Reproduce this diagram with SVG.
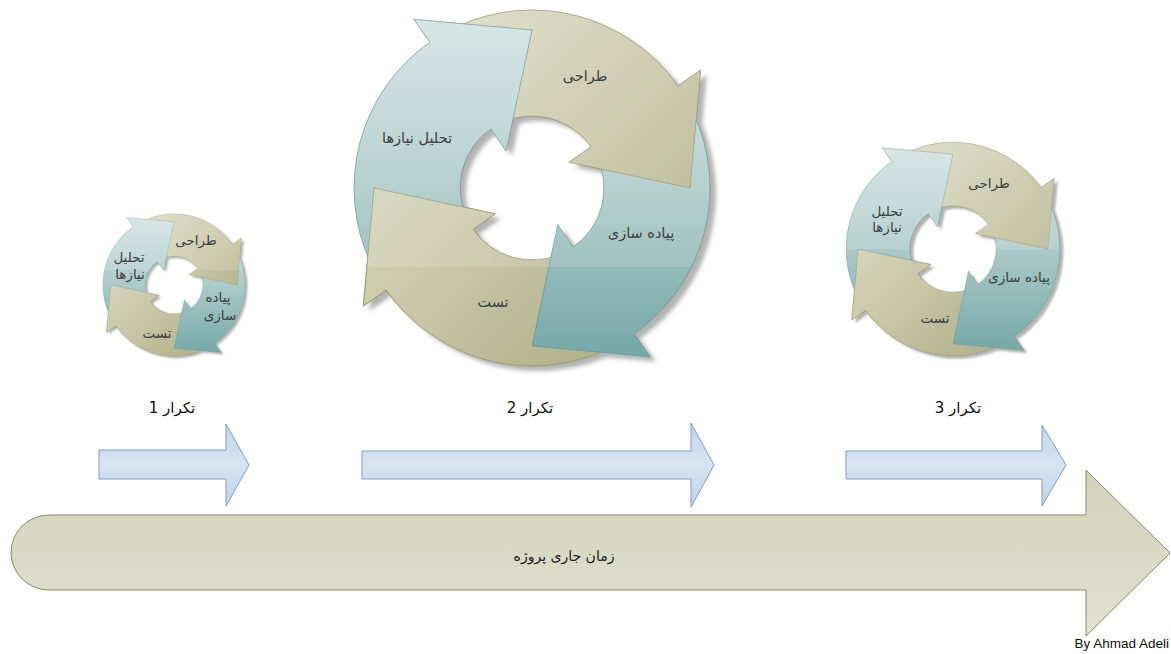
<svg xmlns="http://www.w3.org/2000/svg" xmlns:xlink="http://www.w3.org/1999/xlink" width="1171" height="654" viewBox="0 0 1171 654">
  <style>
    .lbl { font-family: "DejaVu Sans", "Noto Sans", sans-serif; font-size: 13.5px; fill: #3c4040; text-anchor: middle; dominant-baseline: central; }
    .step { font-family: "DejaVu Sans", "Noto Sans", sans-serif; font-size: 15px; fill: #111; text-anchor: middle; direction: rtl; unicode-bidi: embed; }
    .teal { fill: url(#tealFill); stroke: #6b9896; stroke-width: 0.8; vector-effect: non-scaling-stroke; }
    .tan { fill: url(#tanFill); stroke: #95946e; stroke-width: 0.8; vector-effect: non-scaling-stroke; }
    .shade { fill: #8a8a8a; }
    .iter { fill: url(#blueFill); stroke: #7f9fc6; stroke-width: 1; }
    .timeline { fill: url(#oliveFill); stroke: #8a8a5e; stroke-width: 1; }
  </style>
  <defs>
    <linearGradient id="tealFill" gradientUnits="userSpaceOnUse" x1="0" y1="-200" x2="0" y2="190">
      <stop offset="0" stop-color="#d8e8e7"/>
      <stop offset="0.5" stop-color="#adcbca"/>
      <stop offset="1" stop-color="#6ea4a3"/>
    </linearGradient>
    <linearGradient id="tanFill" gradientUnits="userSpaceOnUse" x1="-150" y1="-150" x2="150" y2="150">
      <stop offset="0" stop-color="#dfdfca"/>
      <stop offset="0.5" stop-color="#c8c7a7"/>
      <stop offset="1" stop-color="#abaa84"/>
    </linearGradient>
    <linearGradient id="blueFill" x1="0" y1="0" x2="0" y2="1">
      <stop offset="0" stop-color="#c3d5ea"/>
      <stop offset="0.5" stop-color="#d6e3f2"/>
      <stop offset="1" stop-color="#bfd2e9"/>
    </linearGradient>
    <linearGradient id="oliveFill" x1="0" y1="0" x2="0" y2="1">
      <stop offset="0" stop-color="#d2d3b9"/>
      <stop offset="0.5" stop-color="#d9dac4"/>
      <stop offset="1" stop-color="#e1e1d1"/>
    </linearGradient>
    <filter id="soft" x="-20%" y="-20%" width="140%" height="140%">
      <feGaussianBlur stdDeviation="2"/>
    </filter>

    <!-- four curved arrows of a cycle, centred on 0,0 (outer radius 178, inner 72) -->
    <path id="pA" d="M -161.3 75.2 A 178 178 0 0 1 -102.1 -145.8 L -118.2 -168.7 L 0 -158 L -25.8 -36.9 L -41.3 -59 A 72 72 0 0 0 -65.3 30.4 Z"/>
    <path id="pB" d="M -75.2 -161.3 A 178 178 0 0 1 145.8 -102.1 L 168.7 -118.2 L 158 0 L 36.9 -25.8 L 59 -41.3 A 72 72 0 0 0 -30.4 -65.3 Z"/>
    <path id="pC" d="M 161.3 -75.2 A 178 178 0 0 1 102.1 145.8 L 118.2 168.7 L 0 158 L 25.8 36.9 L 41.3 59 A 72 72 0 0 0 65.3 -30.4 Z"/>
    <path id="pD" d="M 75.2 161.3 A 178 178 0 0 1 -145.8 102.1 L -168.7 118.2 L -158 0 L -36.9 25.8 L -59 41.3 A 72 72 0 0 0 30.4 65.3 Z"/>

    <!-- wedge around the head of the lower-left arrow, so it can sit over the next tail -->
    <clipPath id="headWedge" clipPathUnits="userSpaceOnUse">
      <polygon points="0,0 -169.7,169.7 -225.5,82.1 -239.1,-20.9"/>
    </clipPath>
    <clipPath id="ringArea" clipPathUnits="userSpaceOnUse">
      <use xlink:href="#pA"/>
      <use xlink:href="#pB"/>
      <use xlink:href="#pC"/>
      <use xlink:href="#pD"/>
    </clipPath>

    <g id="cycleArt">
      <g opacity="0.65" filter="url(#soft)" transform="translate(6 5)">
        <use xlink:href="#pA" class="shade"/>
        <use xlink:href="#pB" class="shade"/>
        <use xlink:href="#pC" class="shade"/>
        <use xlink:href="#pD" class="shade"/>
      </g>
      <use xlink:href="#pD" class="tan"/>
      <use xlink:href="#pC" class="teal"/>
      <use xlink:href="#pB" class="tan"/>
      <use xlink:href="#pA" class="teal"/>
      <use xlink:href="#pD" class="tan" clip-path="url(#headWedge)"/>
    </g>
  </defs>

  <rect width="1171" height="654" fill="#fff"/>

  <!-- iteration 1 -->
  <g id="cycle1">
    <g transform="translate(174 285) scale(0.4)">
      <use xlink:href="#cycleArt"/>
      <rect x="-240" y="-240" width="480" height="203" fill="#fff" opacity="0.12" clip-path="url(#ringArea)"/>
    </g>
    <text class="lbl" x="196" y="240">طراحی</text>
    <text class="lbl" x="129" y="257">تحلیل</text>
    <text class="lbl" x="130" y="274">نیازها</text>
    <text class="lbl" x="218" y="297">پیاده</text>
    <text class="lbl" x="220" y="315">سازی</text>
    <text class="lbl" x="157" y="333">تست</text>
  </g>

  <!-- iteration 2 -->
  <g id="cycle2">
    <g transform="translate(532 188)">
      <use xlink:href="#cycleArt"/>
      <rect x="-240" y="-240" width="480" height="319" fill="#fff" opacity="0.12" clip-path="url(#ringArea)"/>
    </g>
    <text class="lbl" x="585" y="76" style="font-size:14.5px">طراحی</text>
    <text class="lbl" x="417" y="138" style="font-size:14.5px">تحلیل نیازها</text>
    <text class="lbl" x="641" y="233" style="font-size:14.5px">پیاده سازی</text>
    <text class="lbl" x="493" y="302" style="font-size:14.5px">تست</text>
  </g>

  <!-- iteration 3 -->
  <g id="cycle3">
    <g transform="translate(953 249) scale(0.6)">
      <use xlink:href="#cycleArt"/>
      <rect x="-240" y="-240" width="480" height="240" fill="#fff" opacity="0.12" clip-path="url(#ringArea)"/>
    </g>
    <text class="lbl" x="989" y="183">طراحی</text>
    <text class="lbl" x="887" y="211">تحلیل</text>
    <text class="lbl" x="887" y="227">نیازها</text>
    <text class="lbl" x="1019" y="277">پیاده سازی</text>
    <text class="lbl" x="935" y="318">تست</text>
  </g>

  <!-- iteration titles -->
  <text class="step" x="172" y="413">تکرار 1</text>
  <text class="step" x="530" y="413">تکرار 2</text>
  <text class="step" x="958" y="413">تکرار 3</text>

  <!-- iteration spans -->
  <g id="span1"><path class="iter" d="M 99 450 H 226 V 424 L 249 465 L 226 506 V 479 H 99 Z"/></g>
  <g id="span2"><path class="iter" d="M 362 451 H 691 V 423 L 714 465 L 691 507 V 479 H 362 Z"/></g>
  <g id="span3"><path class="iter" d="M 846 451 H 1042 V 425 L 1066 465 L 1042 506 V 479 H 846 Z"/></g>

  <!-- project timeline -->
  <g id="timeline">
    <path class="timeline" d="M 49 515 H 1086 V 470 L 1170 553 L 1086 636 V 590 H 49 A 38 37.5 0 0 1 49 515 Z"/>
    <text class="lbl" x="564" y="556" style="font-size:14px;fill:#1a1a1a">زمان جاری پروژه</text>
  </g>

  <text x="1169" y="648" text-anchor="end" font-family="Liberation Sans, Arial, sans-serif" font-size="13.5" fill="#111">By Ahmad Adeli</text>
</svg>
